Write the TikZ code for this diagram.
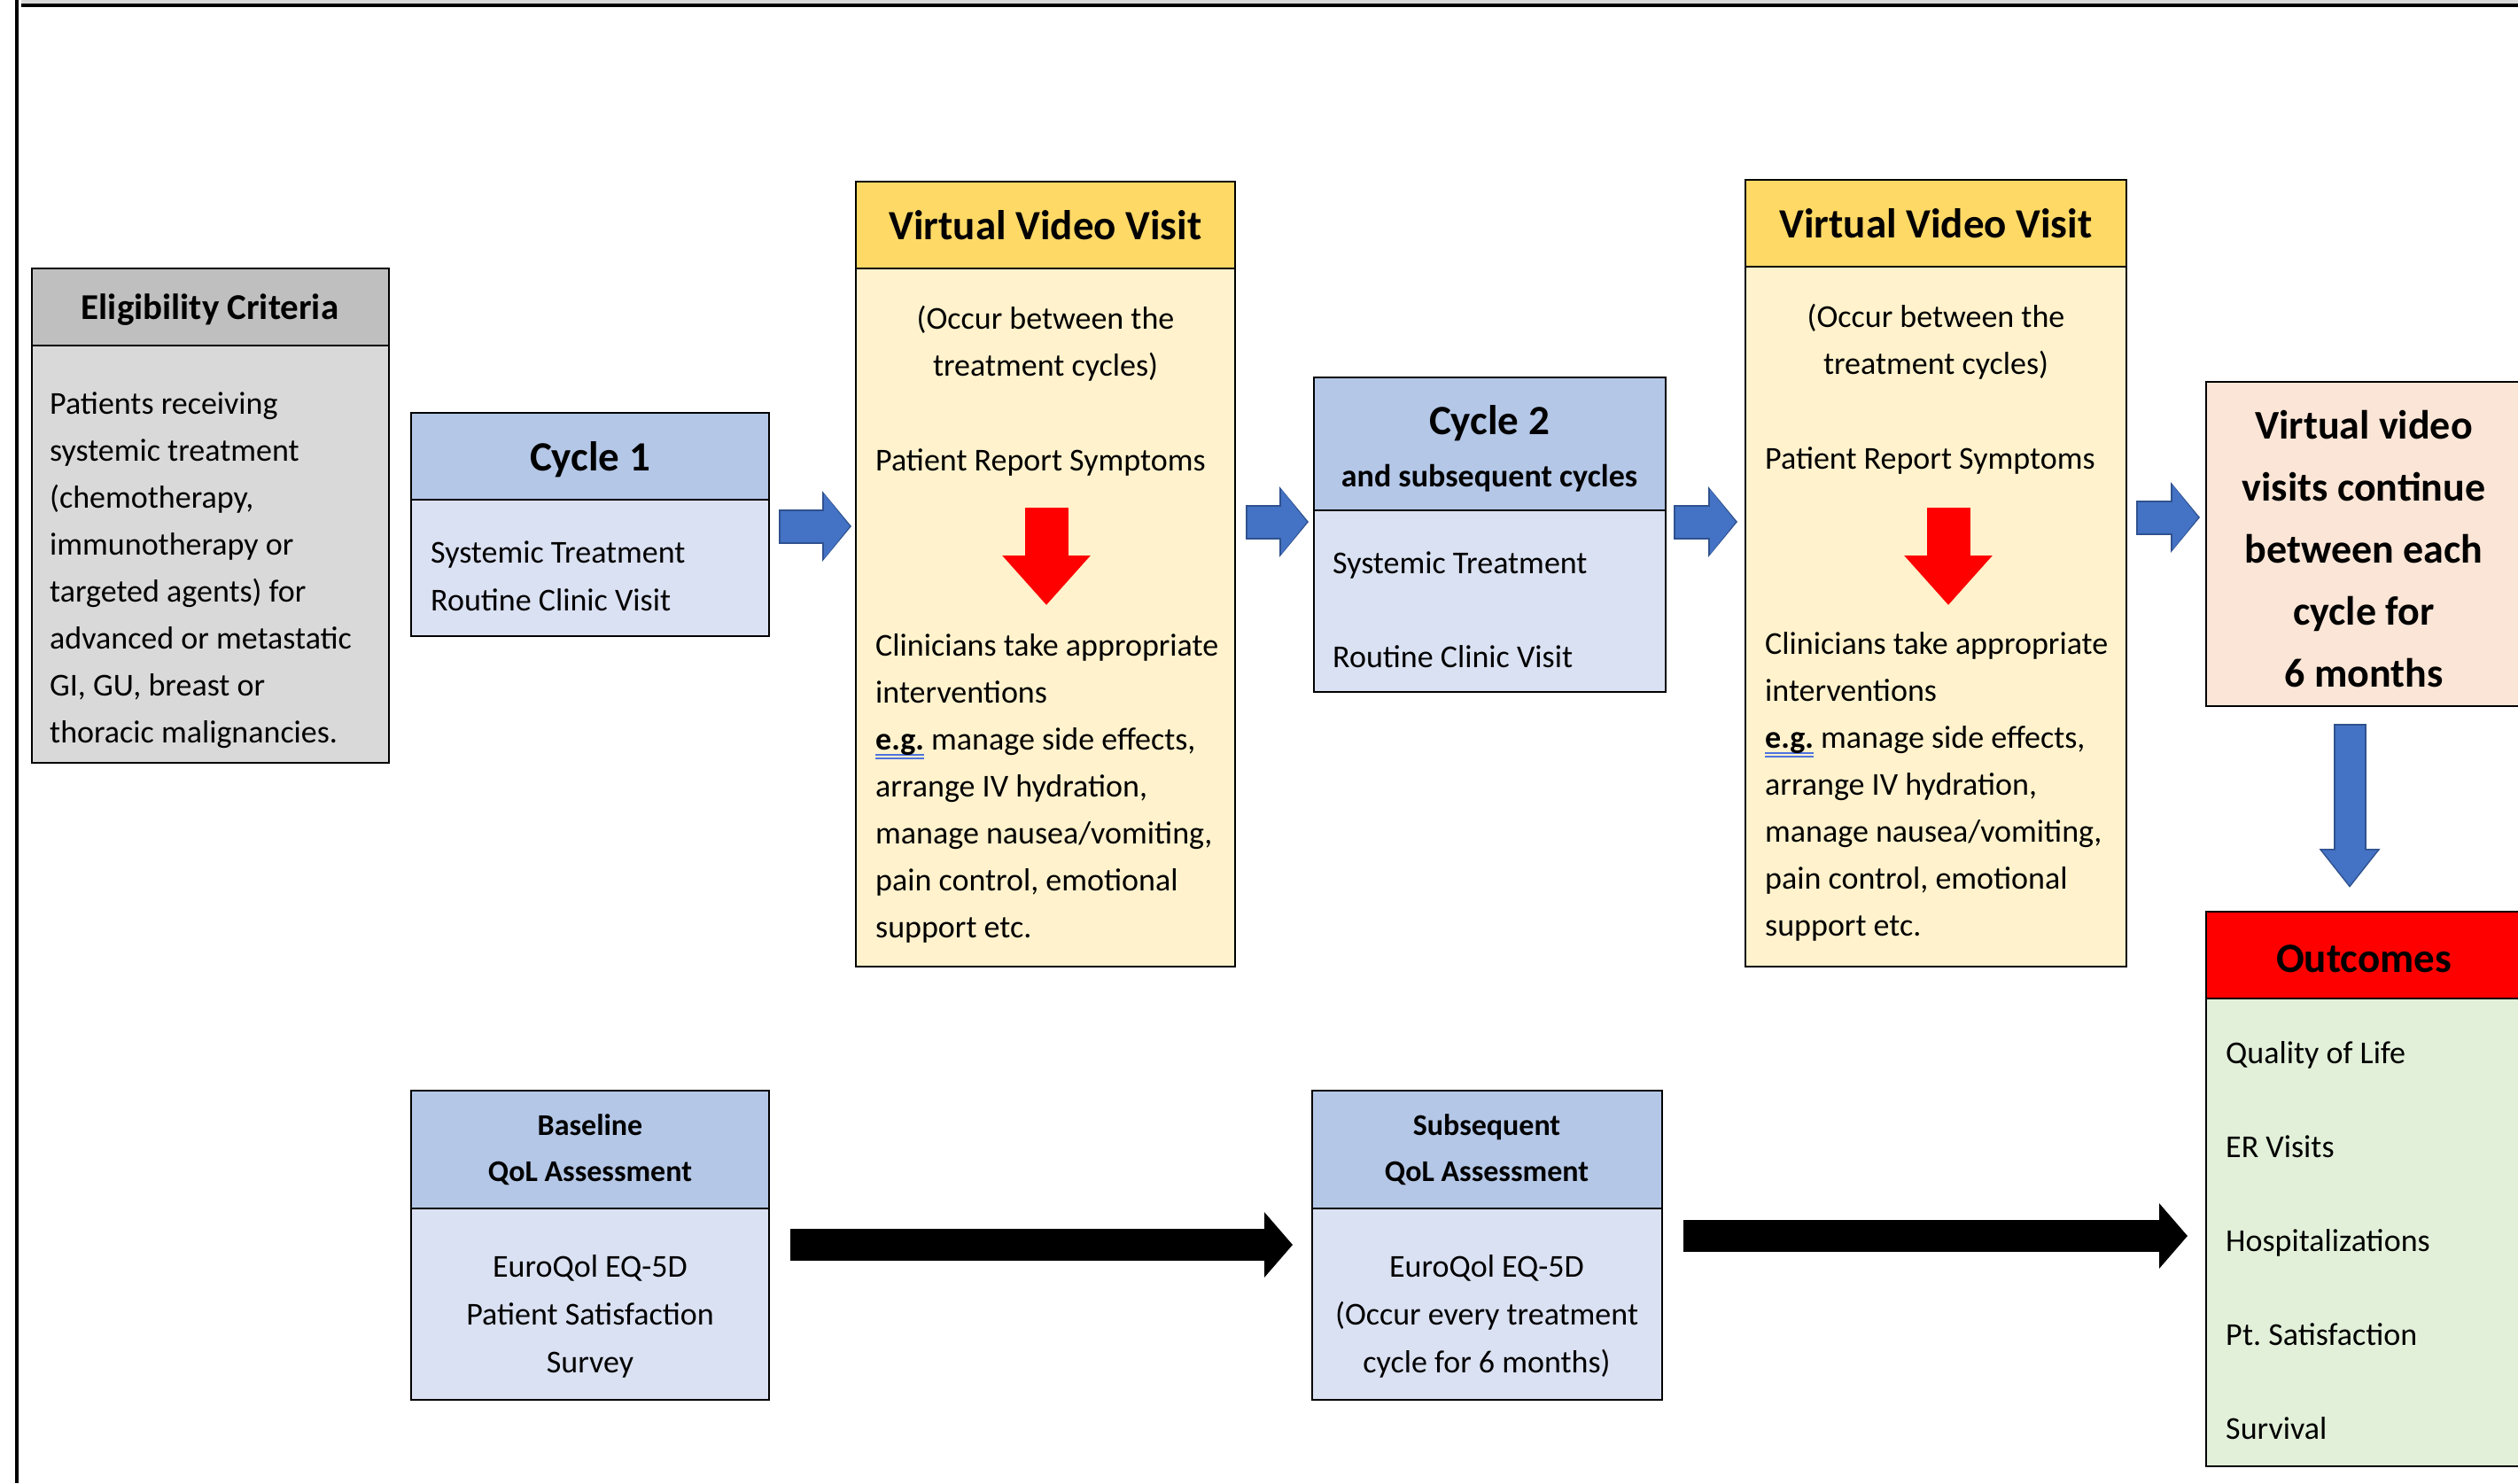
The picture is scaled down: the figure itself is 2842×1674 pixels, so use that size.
\documentclass[tikz,border=0pt]{standalone}
\usepackage{fontspec}
\setmainfont{Carlito}
\usetikzlibrary{arrows.meta,calc}
\frenchspacing

\definecolor{eligHead}{HTML}{BFBFBF}
\definecolor{eligBody}{HTML}{D9D9D9}
\definecolor{cycHead}{HTML}{B4C7E7}
\definecolor{cycBody}{HTML}{DAE1F2}
\definecolor{vvvHead}{HTML}{FFD966}
\definecolor{vvvBody}{HTML}{FFF2CC}
\definecolor{peach}{HTML}{FBE5D6}
\definecolor{outHead}{HTML}{FF0000}
\definecolor{outBody}{HTML}{E2F0D9}
\definecolor{blueFill}{HTML}{4472C4}
\definecolor{blueEdge}{HTML}{2F528F}
\definecolor{ulblue}{HTML}{4F72E0}

\newcommand\setfs[2]{\fontsize{#1}{#2}\selectfont}
% bold word with a double blue underline
\newcommand\egword[1]{\setbox0=\hbox{\bfseries #1}%
  \rlap{\color{ulblue}\rule[-0.17em]{\wd0}{0.045em}}%
  \rlap{\color{ulblue}\rule[-0.29em]{\wd0}{0.045em}}\box0\relax}

\begin{document}
\begin{tikzpicture}[x=1pt,y=-1pt,
  panel/.style={draw=black, line width=2.7pt, inner sep=0pt, outer sep=0pt, anchor=north west},
  txt/.style={inner sep=0pt, font=\setfs{36}{53}},
  headtxt/.style={inner sep=0pt, font=\setfs{47}{56}\bfseries},
  bluearrowedge/.style={line width=39pt, color=blueEdge, -{Triangle[length=33pt,width=78pt]}},
  bluearrowfill/.style={line width=35pt, color=blueFill, shorten >=2pt, shorten <=1.5pt,
    -{Triangle[length=29pt,width=72pt]}},
  downedge/.style={line width=37pt, color=blueEdge, -{Triangle[length=44pt,width=66pt]}},
  downfill/.style={line width=33pt, color=blueFill, shorten >=2.5pt, shorten <=1.5pt,
    -{Triangle[length=40pt,width=60pt]}},
  redarrow/.style={line width=49pt, color=red, -{Triangle[length=56pt,width=96pt]}},
  blackarrow/.style={line width=36pt, color=black, -{Triangle[length=32pt,width=72pt]}}
]
\useasboundingbox (0,0) rectangle (2842,1674);
\fill[white] (0,0) rectangle (2842,1674);

% outer frame
\fill[eligBody] (24,0) rectangle (2842,6);
\draw[line width=3.5pt] (24,6) -- (2842,6);
\draw[line width=3.5pt] (19,0) -- (19,1674);

% Eligibility criteria
\node[panel, fill=eligHead, minimum width=403pt, minimum height=87pt] (eligH) at (36,303) {};
\node[panel, fill=eligBody, minimum width=403pt, minimum height=471pt] (eligB) at (36,390) {};
\node[headtxt, font=\setfs{41}{50}\bfseries] (eligT) at (237,350) {Eligibility Criteria};
\node[txt, anchor=west, align=left] (eligX) at (56,644)
  {Patients receiving\\systemic treatment\\(chemotherapy,\\immunotherapy or\\targeted agents) for\\advanced or metastatic\\GI, GU, breast or\\thoracic malignancies.};

% Cycle 1
\node[panel, fill=cycHead, minimum width=404pt, minimum height=98pt] (c1H) at (464,466) {};
\node[panel, fill=cycBody, minimum width=404pt, minimum height=154pt] (c1B) at (464,564) {};
\node[headtxt] (c1T) at (666,519) {Cycle 1};
\node[txt, font=\setfs{36}{54}, anchor=west, align=left] (c1X) at (486,650)
  {Systemic Treatment\\Routine Clinic Visit};

% Virtual video visit 1
\node[panel, fill=vvvHead, minimum width=428pt, minimum height=98pt] (v1H) at (966,205) {};
\node[panel, fill=vvvBody, minimum width=428pt, minimum height=788pt] (v1B) at (966,303) {};
\node[headtxt] (v1T) at (1180,254) {Virtual Video Visit};
\node[txt, align=center] (v1Occ) at (1180,388) {(Occur between the\\treatment cycles)};
\node[txt, anchor=west] (v1Rep) at (988,522) {Patient Report Symptoms};
\node[txt, anchor=west, align=left] (v1Act) at (988,890)
  {Clinicians take appropriate\\interventions\\\egword{e.g.} manage side effects,\\arrange IV hydration,\\manage nausea/vomiting,\\pain control, emotional\\support etc.};
\draw[redarrow] ($(v1B.north)+(1,270)$) -- ($(v1B.north)+(1,380)$);

% Cycle 2
\node[panel, fill=cycHead, minimum width=397pt, minimum height=150pt] (c2H) at (1483,426) {};
\node[panel, fill=cycBody, minimum width=397pt, minimum height=205pt] (c2B) at (1483,576) {};
\node[headtxt] (c2T) at (1681,478) {Cycle 2};
\node[inner sep=0pt, font=\setfs{36}{44}\bfseries] (c2S) at (1681,540) {and subsequent cycles};
\node[txt, font=\setfs{36}{106}, anchor=west, align=left] (c2X) at (1504,688)
  {Systemic Treatment\\Routine Clinic Visit};

% Virtual video visit 2
\node[panel, fill=vvvHead, minimum width=430pt, minimum height=98pt] (v2H) at (1970,203) {};
\node[panel, fill=vvvBody, minimum width=430pt, minimum height=790pt] (v2B) at (1970,301) {};
\node[headtxt] (v2T) at (2185,252) {Virtual Video Visit};
\node[txt, align=center] (v2Occ) at (2185,386) {(Occur between the\\treatment cycles)};
\node[txt, anchor=west] (v2Rep) at (1992,520) {Patient Report Symptoms};
\node[txt, anchor=west, align=left] (v2Act) at (1992,888)
  {Clinicians take appropriate\\interventions\\\egword{e.g.} manage side effects,\\arrange IV hydration,\\manage nausea/vomiting,\\pain control, emotional\\support etc.};
\draw[redarrow] ($(v2B.north)+(14,272)$) -- ($(v2B.north)+(14,382)$);

% Continuation box
\node[panel, fill=peach, minimum width=360pt, minimum height=366pt] (cont) at (2490,431) {};
\node[inner sep=0pt, font=\setfs{46}{70}\bfseries, align=center] (contT) at (2668,620)
  {Virtual video\\visits continue\\between each\\cycle for\\6 months};

% Outcomes
\node[panel, fill=outHead, minimum width=360pt, minimum height=98pt] (outH) at (2490,1029) {};
\node[panel, fill=outBody, minimum width=360pt, minimum height=528pt] (outB) at (2490,1127) {};
\node[headtxt] (outT) at (2668,1082) {Outcomes};
\node[txt, font=\setfs{36}{106}, anchor=west, align=left] (outX) at (2512,1400)
  {Quality of Life\\ER Visits\\Hospitalizations\\Pt. Satisfaction\\Survival};

% Baseline QoL assessment
\node[panel, fill=cycHead, minimum width=404pt, minimum height=133pt] (bqH) at (464,1231) {};
\node[panel, fill=cycBody, minimum width=404pt, minimum height=216pt] (bqB) at (464,1364) {};
\node[inner sep=0pt, font=\setfs{34}{52}\bfseries, align=center] (bqT) at (666,1298)
  {Baseline\\QoL Assessment};
\node[txt, font=\setfs{36}{54}, align=center] (bqX) at (666,1486)
  {EuroQol EQ-5D\\Patient Satisfaction\\Survey};

% Subsequent QoL assessment
\node[panel, fill=cycHead, minimum width=395pt, minimum height=133pt] (sqH) at (1481,1231) {};
\node[panel, fill=cycBody, minimum width=395pt, minimum height=216pt] (sqB) at (1481,1364) {};
\node[inner sep=0pt, font=\setfs{34}{52}\bfseries, align=center] (sqT) at (1678,1298)
  {Subsequent\\QoL Assessment};
\node[txt, font=\setfs{36}{54}, align=center] (sqX) at (1678,1486)
  {EuroQol EQ-5D\\(Occur every treatment\\cycle for 6 months)};

% blue flow arrows along the top row
\foreach \s/\t/\y/\a/\b in {c1B/v1B/594/11/5, v1B/c2B/589/12/6, c2B/v2B/589/9/9, v2B/cont/584/11/7}{
  \draw[bluearrowedge] ($(\s.east |- 0,\y)+(\a,0)$) -- ($(\t.west |- 0,\y)+(-\b,0)$);
  \draw[bluearrowfill] ($(\s.east |- 0,\y)+(\a,0)$) -- ($(\t.west |- 0,\y)+(-\b,0)$);
}
\draw[downedge] ($(cont.south -| 2652,0)+(0,20)$) -- ($(outH.north -| 2652,0)+(0,-27)$);
\draw[downfill] ($(cont.south -| 2652,0)+(0,20)$) -- ($(outH.north -| 2652,0)+(0,-27)$);

% black arrows along the bottom row
\draw[blackarrow] ($(bqB.east |- 0,1405)+(24,0)$) -- ($(sqB.west |- 0,1405)+(-22,0)$);
\draw[blackarrow] ($(sqB.east |- 0,1395)+(24,0)$) -- ($(outB.west |- 0,1395)+(-21,0)$);
\end{tikzpicture}
\end{document}
